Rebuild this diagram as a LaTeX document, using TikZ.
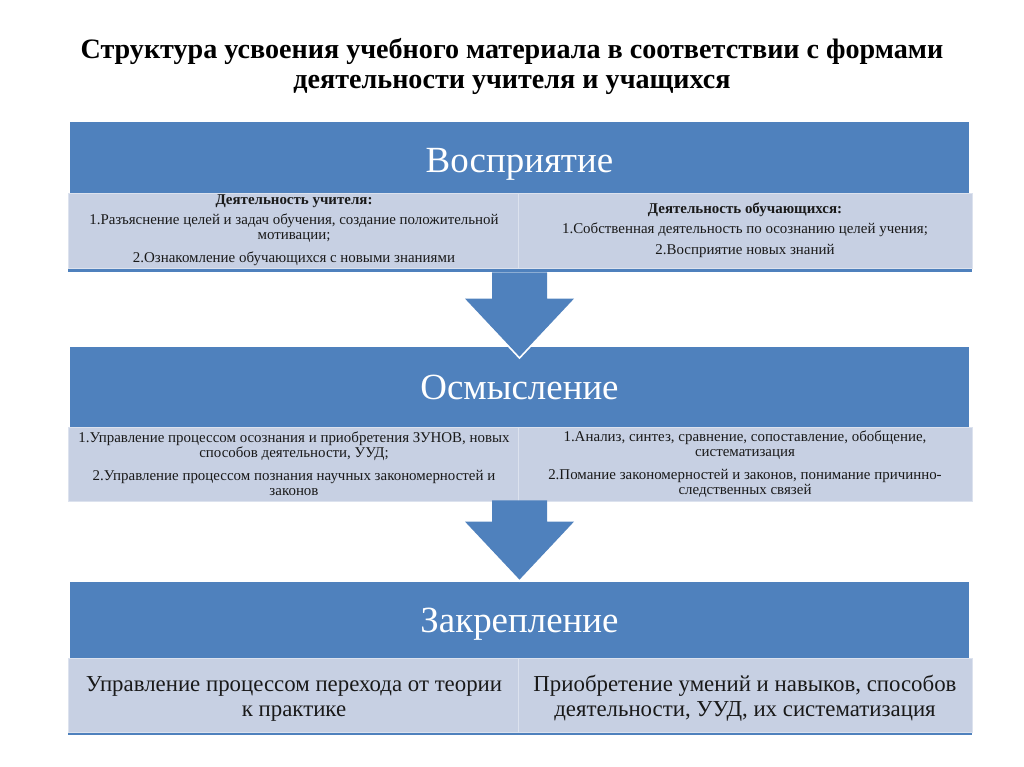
\documentclass[tikz,border=0pt]{standalone}
\usepackage{fontspec}
\setmainfont{Liberation Serif}
\usetikzlibrary{positioning}
\usetikzlibrary{calc}
\definecolor{hdrblue}{RGB}{79,129,189}
\definecolor{subfill}{RGB}{199,208,227}
\definecolor{subedge}{RGB}{220,226,238}
\definecolor{txtdark}{RGB}{25,25,25}
\tikzset{hdr/.style={fill=hdrblue, minimum width=17.98cm, inner sep=0pt, text=white, font=\fontsize{21}{24}\selectfont}}
\tikzset{sub/.style={fill=subfill, draw=subedge, line width=0.5pt, inner sep=0pt, align=center, text=txtdark}}
\tikzset{small/.style={font=\fontsize{8.5}{8.6}\selectfont}}
\tikzset{large/.style={font=\fontsize{13}{14.2}\selectfont}}
\tikzset{bigarrow/.style={fill=hdrblue}}
\tikzset{arrowrim/.style={draw=white, line width=2pt, line join=miter}}

\begin{document}
\begin{tikzpicture}
\useasboundingbox (0,0) rectangle (20.48,15.34);

\node (title) at (10.24,14.01) [align=center, font=\bfseries\fontsize{16}{17.6}\selectfont]
  {Структура усвоения учебного материала в соответствии с формами\\
   деятельности учителя и учащихся};

% headers run on behind the sub boxes
\node (h1) [hdr, minimum height=1.68cm] at (10.39,12.06) {Восприятие};
\node (h2) [hdr, minimum height=1.6cm] at (10.39,7.6) {Осмысление};
\node (h3) [hdr, minimum height=1.68cm] at (10.39,2.86) {Закрепление};

% shadow strips under the sub boxes
\fill[hdrblue] (1.36,9.90) rectangle (19.44,10.2);
\fill[hdrblue] (1.36,0.64) rectangle (19.44,1.0);

\node (l1) [sub, small, minimum width=9.04cm, minimum height=1.5cm] at (5.88,10.73)
  {\textbf{Деятельность учителя:}\\[2.6pt]
   1.Разъяснение целей и задач обучения, создание положительной\\ мотивации;\\[4.4pt]
   2.Ознакомление обучающихся с новыми знаниями};
\node (r1) [sub, small, minimum width=9.08cm, minimum height=1.5cm] at (14.9,10.73)
  {\textbf{Деятельность обучающихся:}\\[2.6pt]
   1.Собственная деятельность по осознанию целей учения;\\[3.6pt]
   2.Восприятие новых знаний};

\node (l2) [sub, small, minimum width=9.04cm, minimum height=1.48cm] at (5.88,6.06)
  {1.Управление процессом осознания и приобретения ЗУНОВ, новых\\ способов деятельности, УУД;\\[4.4pt]
   2.Управление процессом познания научных закономерностей и\\ законов};
\node (r2) [sub, small, minimum width=9.08cm, minimum height=1.48cm] at (14.9,6.06)
  {1.Анализ, синтез, сравнение, сопоставление, обобщение,\\ систематизация\\[4.4pt]
   2.Помание закономерностей и законов, понимание причинно-\\ следственных связей};

\node (l3) [sub, large, minimum width=9.04cm, minimum height=1.48cm] at (5.88,1.44)
  {\rule{0pt}{13.5pt}Управление процессом перехода от теории\\ к практике};
\node (r3) [sub, large, minimum width=9.08cm, minimum height=1.48cm] at (14.9,1.44)
  {\rule{0pt}{13.5pt}Приобретение умений и навыков, способов\\ деятельности, УУД, их систематизация};

% block arrows
\coordinate (s1) at ($(l1.south -| h1.center)+(0,-0.08)$);
\coordinate (t1) at ($(h2.north)+(0,-0.2)$);
\coordinate (s2) at ($(l2.south -| h2.center)+(0,0.02)$);
\coordinate (t2) at ($(h3.north)+(0,0.04)$);

\draw[arrowrim] ($(t1)+(1.09,1.16)$) -- (t1) -- ($(t1)+(-1.09,1.16)$);
\fill[bigarrow] ($(s1)+(-0.55,0)$) -- ($(s1)+(0.55,0)$) -- ($(t1)+(0.55,1.16)$)
  -- ($(t1)+(1.09,1.16)$) -- (t1) -- ($(t1)+(-1.09,1.16)$) -- ($(t1)+(-0.55,1.16)$) -- cycle;

\draw[arrowrim] ($(t2)+(1.09,1.16)$) -- (t2) -- ($(t2)+(-1.09,1.16)$);
\fill[bigarrow] ($(s2)+(-0.55,0)$) -- ($(s2)+(0.55,0)$) -- ($(t2)+(0.55,1.16)$)
  -- ($(t2)+(1.09,1.16)$) -- (t2) -- ($(t2)+(-1.09,1.16)$) -- ($(t2)+(-0.55,1.16)$) -- cycle;
\end{tikzpicture}
\end{document}
